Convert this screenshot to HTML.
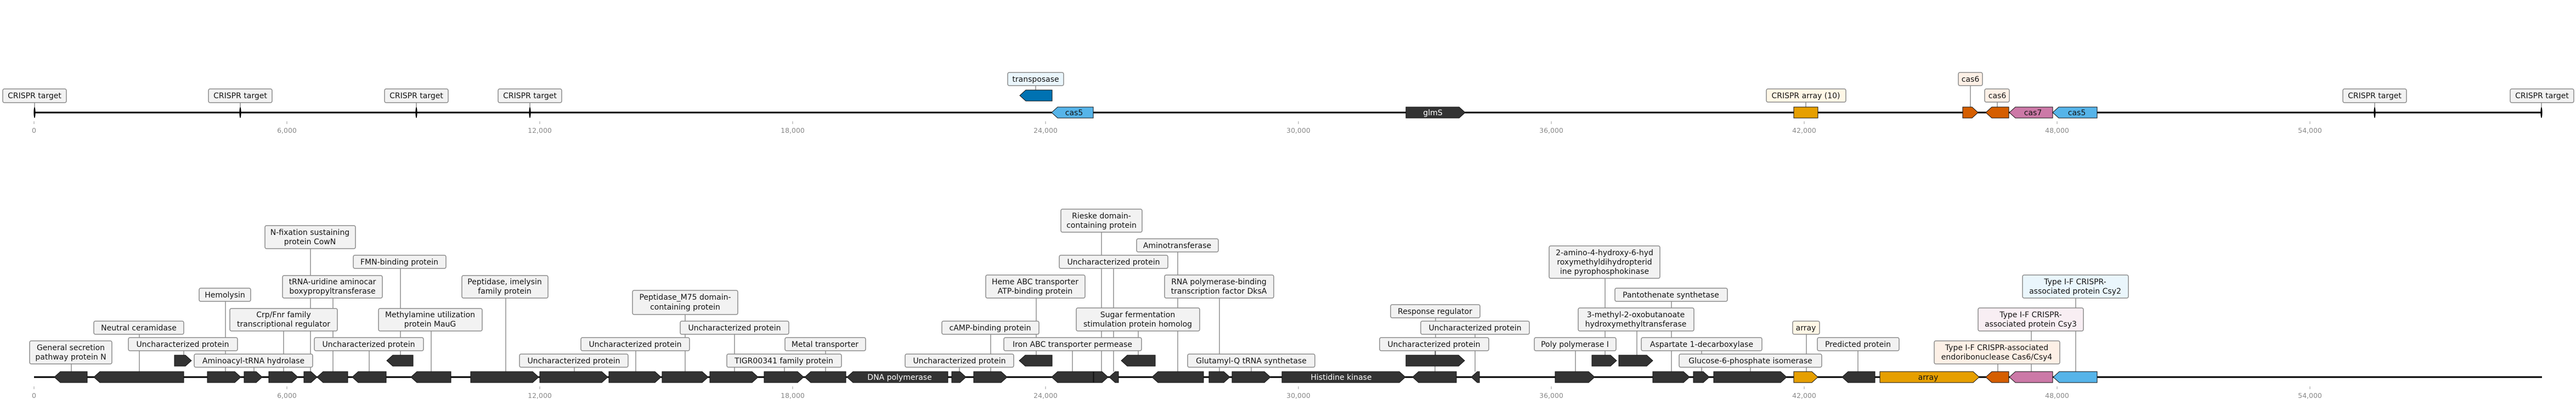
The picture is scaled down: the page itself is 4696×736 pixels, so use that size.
<!DOCTYPE html>
<html><head><meta charset="utf-8"><style>
html,body{margin:0;padding:0;background:#fff;}
svg{display:block;}
text{font-family:"DejaVu Sans","Liberation Sans",sans-serif;}
.lb{font-size:14px;fill:#111;text-anchor:middle;}
.tk{font-size:12.5px;fill:#888;text-anchor:middle;}
.bx{fill:#f2f2f2;stroke:#8a8a8a;stroke-width:1.5;}
.ld{stroke:#555;stroke-width:1;}
.g{fill:#333;stroke:#111;stroke-width:1;}
.gl{font-size:14px;text-anchor:middle;}
</style></head><body>
<svg width="4696" height="736" xmlns="http://www.w3.org/2000/svg">
<!-- ===== TOP TRACK ===== -->
<g class="ld">
<line x1="63" y1="187" x2="63" y2="196"/><line x1="438" y1="187" x2="438" y2="196"/>
<line x1="759" y1="187" x2="759" y2="196"/><line x1="966" y1="187" x2="966" y2="196"/>
<line x1="4329" y1="187" x2="4329" y2="196"/><line x1="4633" y1="187" x2="4633" y2="196"/>
<line x1="1888" y1="156" x2="1888" y2="164"/>
<line x1="3292" y1="186" x2="3292" y2="195"/>
<line x1="3592" y1="156" x2="3592" y2="195"/>
<line x1="3641" y1="186" x2="3641" y2="195"/>
</g>
<line x1="62" y1="205" x2="4633" y2="205" stroke="#000" stroke-width="3"/>
<g fill="#000">
<ellipse cx="63" cy="205" rx="1.6" ry="10"/><ellipse cx="438" cy="205" rx="1.6" ry="10"/>
<ellipse cx="759" cy="205" rx="1.6" ry="10"/><ellipse cx="966" cy="205" rx="1.6" ry="10"/>
<ellipse cx="4329" cy="205" rx="1.6" ry="10"/><ellipse cx="4633" cy="205" rx="1.6" ry="10"/>
</g>
<polygon fill="#0072B2" stroke="#111" points="1859,174 1870,164 1918,164 1918,184 1870,184"/>
<polygon fill="#56B4E9" stroke="#111" points="1917,205 1928,195 1993,195 1993,215 1928,215"/>
<text class="gl" x="1958" y="210" fill="#111">cas5</text>
<polygon class="g" points="2563,195 2660,195 2671,205 2660,215 2563,215"/>
<text class="gl" x="2612" y="210" fill="#fff">glmS</text>
<rect x="3270" y="195" width="44" height="20" fill="#E69F00" stroke="#111"/>
<polygon fill="#D55E00" stroke="#111" points="3578,195 3595,195 3606,205 3595,215 3578,215"/>
<polygon fill="#D55E00" stroke="#111" points="3620,205 3631,195 3662,195 3662,215 3631,215"/>
<polygon fill="#CC79A7" stroke="#111" points="3663,205 3674,195 3742,195 3742,215 3674,215"/>
<text class="gl" x="3706" y="210" fill="#111">cas7</text>
<polygon fill="#56B4E9" stroke="#111" points="3742,205 3753,195 3823,195 3823,215 3753,215"/>
<text class="gl" x="3786" y="210" fill="#111">cas5</text>
<!-- top boxes -->
<g>
<rect class="bx" x="5" y="162" width="116" height="25" rx="3"/><text class="lb" x="63" y="179">CRISPR target</text>
<rect class="bx" x="380" y="162" width="116" height="25" rx="3"/><text class="lb" x="438" y="179">CRISPR target</text>
<rect class="bx" x="701" y="162" width="116" height="25" rx="3"/><text class="lb" x="759" y="179">CRISPR target</text>
<rect class="bx" x="908" y="162" width="116" height="25" rx="3"/><text class="lb" x="966" y="179">CRISPR target</text>
<rect class="bx" x="4271" y="162" width="116" height="25" rx="3"/><text class="lb" x="4329" y="179">CRISPR target</text>
<rect class="bx" x="4576" y="162" width="116" height="25" rx="3"/><text class="lb" x="4634" y="179">CRISPR target</text>
<rect class="bx" x="1837" y="132" width="102" height="24" rx="3" style="fill:#eaf6fc"/><text class="lb" x="1888" y="149">transposase</text>
<rect class="bx" x="3220" y="162" width="145" height="24" rx="3" style="fill:#fff7e6"/><text class="lb" x="3292" y="179">CRISPR array (10)</text>
<rect class="bx" x="3570" y="132" width="44" height="24" rx="3" style="fill:#fdf0e6"/><text class="lb" x="3592" y="149">cas6</text>
<rect class="bx" x="3618" y="162" width="45" height="24" rx="3" style="fill:#fdf0e6"/><text class="lb" x="3641" y="179">cas6</text>
</g>
<!-- top ticks -->
<g stroke="#999" stroke-width="1">
<line x1="62" y1="221" x2="62" y2="226"/><line x1="523" y1="221" x2="523" y2="226"/><line x1="984" y1="221" x2="984" y2="226"/><line x1="1445" y1="221" x2="1445" y2="226"/><line x1="1906" y1="221" x2="1906" y2="226"/><line x1="2367" y1="221" x2="2367" y2="226"/><line x1="2828" y1="221" x2="2828" y2="226"/><line x1="3289" y1="221" x2="3289" y2="226"/><line x1="3750" y1="221" x2="3750" y2="226"/><line x1="4211" y1="221" x2="4211" y2="226"/>
</g>
<g class="tk">
<text x="62" y="242">0</text><text x="523" y="242">6,000</text><text x="984" y="242">12,000</text><text x="1445" y="242">18,000</text><text x="1906" y="242">24,000</text><text x="2367" y="242">30,000</text><text x="2828" y="242">36,000</text><text x="3289" y="242">42,000</text><text x="3750" y="242">48,000</text><text x="4211" y="242">54,000</text>
</g>

<!-- ===== BOTTOM TRACK ===== -->
<g class="ld">
<line x1="130" y1="663" x2="130" y2="677"/>
<line x1="254" y1="609" x2="254" y2="677"/>
<line x1="335" y1="639" x2="335" y2="647"/>
<line x1="411" y1="549" x2="411" y2="677"/>
<line x1="463" y1="669" x2="463" y2="677"/>
<line x1="517" y1="603" x2="517" y2="677"/>
<line x1="566" y1="453" x2="566" y2="677"/>
<line x1="607" y1="543" x2="607" y2="677"/>
<line x1="673" y1="639" x2="673" y2="677"/>
<line x1="730" y1="489" x2="730" y2="647"/>
<line x1="786" y1="603" x2="786" y2="677"/>
<line x1="922" y1="543" x2="922" y2="677"/>
<line x1="1047" y1="669" x2="1047" y2="677"/>
<line x1="1159" y1="639" x2="1159" y2="677"/>
<line x1="1249" y1="573" x2="1249" y2="677"/>
<line x1="1339" y1="609" x2="1339" y2="677"/>
<line x1="1430" y1="669" x2="1430" y2="677"/>
<line x1="1505" y1="639" x2="1505" y2="677"/>
<line x1="1749" y1="669" x2="1749" y2="677"/>
<line x1="1806" y1="609" x2="1806" y2="677"/>
<line x1="1889" y1="543" x2="1889" y2="647"/>
<line x1="1955" y1="639" x2="1955" y2="677"/>
<line x1="2008" y1="423" x2="2008" y2="677"/>
<line x1="2030" y1="489" x2="2030" y2="677"/>
<line x1="2147" y1="459" x2="2147" y2="677"/>
<line x1="2075" y1="603" x2="2075" y2="647"/>
<line x1="2223" y1="543" x2="2223" y2="677"/>
<line x1="2281" y1="669" x2="2281" y2="677"/>
<line x1="2617" y1="579" x2="2617" y2="647"/>
<line x1="2689" y1="609" x2="2689" y2="677"/>
<line x1="2616" y1="639" x2="2616" y2="677"/>
<line x1="2872" y1="639" x2="2872" y2="677"/>
<line x1="2926" y1="507" x2="2926" y2="647"/>
<line x1="3047" y1="549" x2="3047" y2="677"/>
<line x1="2984" y1="603" x2="2984" y2="647"/>
<line x1="3102" y1="639" x2="3102" y2="677"/>
<line x1="3191" y1="669" x2="3191" y2="677"/>
<line x1="3293" y1="609" x2="3293" y2="677"/>
<line x1="3387" y1="639" x2="3387" y2="677"/>
<line x1="3642" y1="663" x2="3642" y2="677"/>
<line x1="3703" y1="603" x2="3703" y2="677"/>
<line x1="3784" y1="543" x2="3784" y2="677"/>
</g>
<line x1="62" y1="687" x2="4634" y2="687" stroke="#000" stroke-width="3"/>
<g class="g">
<polygon points="99,687 110,677 159,677 159,697 110,697"/>
<polygon points="171,687 182,677 335,677 335,697 182,697"/>
<polygon points="378,677 428,677 439,687 428,697 378,697"/>
<polygon points="445,677 467,677 478,687 467,697 445,697"/>
<polygon points="490,677 532,677 543,687 532,697 490,697"/>
<polygon points="554,677 567,677 578,687 567,697 554,697"/>
<polygon points="578,687 589,677 634,677 634,697 589,697"/>
<polygon points="642,687 653,677 704,677 704,697 653,697"/>
<polygon points="749,687 760,677 822,677 822,697 760,697"/>
<polygon points="858,677 971,677 982,687 971,697 858,697"/>
<polygon points="984,677 1097,677 1108,687 1097,697 984,697"/>
<polygon points="1110,677 1194,677 1205,687 1194,697 1110,697"/>
<polygon points="1207,677 1280,677 1291,687 1280,697 1207,697"/>
<polygon points="1294,677 1371,677 1382,687 1371,697 1294,697"/>
<polygon points="1393,677 1454,677 1465,687 1454,697 1393,697"/>
<polygon points="1467,687 1478,677 1542,677 1542,697 1478,697"/>
<polygon points="1544,687 1555,677 1728,677 1728,697 1555,697"/>
<polygon points="1735,677 1750,677 1761,687 1750,697 1735,697"/>
<polygon points="1775,677 1825,677 1836,687 1825,697 1775,697"/>
<polygon points="1917,687 1928,677 1993,677 1993,697 1928,697"/>
<polygon points="1994,677 2009,677 2020,687 2009,697 1994,697"/>
<polygon points="2022,687 2033,677 2039,677 2039,697 2033,697"/>
<polygon points="2100,687 2111,677 2194,677 2194,697 2111,697"/>
<polygon points="2204,677 2231,677 2242,687 2231,697 2204,697"/>
<polygon points="2246,677 2305,677 2316,687 2305,697 2246,697"/>
<polygon points="2337,677 2551,677 2562,687 2551,697 2337,697"/>
<polygon points="2575,687 2586,677 2655,677 2655,697 2586,697"/>
<polygon points="2682,687 2693,677 2697,677 2697,697 2693,697"/>
<polygon points="2835,677 2896,677 2907,687 2896,697 2835,697"/>
<polygon points="3013,677 3069,677 3080,687 3069,697 3013,697"/>
<polygon points="3087,677 3105,677 3116,687 3105,697 3087,697"/>
<polygon points="3124,677 3246,677 3257,687 3246,697 3124,697"/>
<polygon points="3358,687 3369,677 3418,677 3418,697 3369,697"/>
<polygon points="318,647 338,647 349,657 338,667 318,667"/>
<polygon points="705,657 716,647 753,647 753,667 716,667"/>
<polygon points="1858,657 1869,647 1918,647 1918,667 1869,667"/>
<polygon points="2044,657 2055,647 2106,647 2106,667 2055,667"/>
<polygon points="2563,647 2659,647 2670,657 2659,667 2563,667"/>
<polygon points="2902,647 2936,647 2947,657 2936,667 2902,667"/>
<polygon points="2951,647 3002,647 3013,657 3002,667 2951,667"/>
</g>
<polygon fill="#E69F00" stroke="#111" points="3270,677 3303,677 3314,687 3303,697 3270,697"/>
<polygon fill="#E69F00" stroke="#111" points="3427,677 3597,677 3608,687 3597,697 3427,697"/>
<polygon fill="#D55E00" stroke="#111" points="3620,687 3631,677 3662,677 3662,697 3631,697"/>
<polygon fill="#CC79A7" stroke="#111" points="3663,687 3674,677 3742,677 3742,697 3674,697"/>
<polygon fill="#56B4E9" stroke="#111" points="3743,687 3754,677 3823,677 3823,697 3754,697"/>
<text class="gl" x="1640" y="692" fill="#fff">DNA polymerase</text>
<text class="gl" x="2445" y="692" fill="#fff">Histidine kinase</text>
<text class="gl" x="3515" y="692" fill="#111">array</text>

<!-- bottom boxes -->
<g>
<rect class="bx" x="54" y="621" width="150" height="42" rx="3"/><text class="lb" x="129" y="638">General secretion</text><text class="lb" x="129" y="655">pathway protein N</text>
<rect class="bx" x="171" y="585" width="164" height="24" rx="3"/><text class="lb" x="253" y="602">Neutral ceramidase</text>
<rect class="bx" x="234" y="615" width="199" height="24" rx="3"/><text class="lb" x="333" y="632">Uncharacterized protein</text>
<rect class="bx" x="363" y="525" width="94" height="24" rx="3"/><text class="lb" x="410" y="542">Hemolysin</text>
<rect class="bx" x="354" y="645" width="216" height="24" rx="3"/><text class="lb" x="462" y="662">Aminoacyl-tRNA hydrolase</text>
<rect class="bx" x="419" y="562" width="196" height="41" rx="3"/><text class="lb" x="517" y="578">Crp/Fnr family</text><text class="lb" x="517" y="595">transcriptional regulator</text>
<rect class="bx" x="483" y="411" width="165" height="42" rx="3"/><text class="lb" x="565" y="428">N-fixation sustaining</text><text class="lb" x="565" y="445">protein CowN</text>
<rect class="bx" x="515" y="502" width="182" height="41" rx="3"/><text class="lb" x="606" y="518">tRNA-uridine aminocar</text><text class="lb" x="606" y="535">boxypropyltransferase</text>
<rect class="bx" x="573" y="615" width="199" height="24" rx="3"/><text class="lb" x="672" y="632">Uncharacterized protein</text>
<rect class="bx" x="644" y="465" width="169" height="24" rx="3"/><text class="lb" x="728" y="482">FMN-binding protein</text>
<rect class="bx" x="690" y="562" width="189" height="41" rx="3"/><text class="lb" x="784" y="578">Methylamine utilization</text><text class="lb" x="784" y="595">protein MauG</text>
<rect class="bx" x="842" y="502" width="157" height="41" rx="3"/><text class="lb" x="920" y="518">Peptidase, imelysin</text><text class="lb" x="920" y="535">family protein</text>
<rect class="bx" x="947" y="645" width="198" height="24" rx="3"/><text class="lb" x="1046" y="662">Uncharacterized protein</text>
<rect class="bx" x="1059" y="615" width="198" height="24" rx="3"/><text class="lb" x="1158" y="632">Uncharacterized protein</text>
<rect class="bx" x="1153" y="529" width="192" height="44" rx="3"/><text class="lb" x="1249" y="546">Peptidase_M75 domain-</text><text class="lb" x="1249" y="564">containing protein</text>
<rect class="bx" x="1240" y="585" width="198" height="24" rx="3"/><text class="lb" x="1339" y="602">Uncharacterized protein</text>
<rect class="bx" x="1325" y="645" width="209" height="24" rx="3"/><text class="lb" x="1429" y="662">TIGR00341 family protein</text>
<rect class="bx" x="1431" y="615" width="147" height="24" rx="3"/><text class="lb" x="1504" y="632">Metal transporter</text>
<rect class="bx" x="1650" y="645" width="198" height="24" rx="3"/><text class="lb" x="1749" y="662">Uncharacterized protein</text>
<rect class="bx" x="1717" y="585" width="177" height="24" rx="3"/><text class="lb" x="1805" y="602">cAMP-binding protein</text>
<rect class="bx" x="1797" y="501" width="181" height="42" rx="3"/><text class="lb" x="1887" y="518">Heme ABC transporter</text><text class="lb" x="1887" y="535">ATP-binding protein</text>
<rect class="bx" x="1830" y="615" width="251" height="24" rx="3"/><text class="lb" x="1955" y="632">Iron ABC transporter permease</text>
<rect class="bx" x="1934" y="381" width="148" height="42" rx="3"/><text class="lb" x="2008" y="398">Rieske domain-</text><text class="lb" x="2008" y="415">containing protein</text>
<rect class="bx" x="1931" y="465" width="198" height="24" rx="3"/><text class="lb" x="2030" y="482">Uncharacterized protein</text>
<rect class="bx" x="2072" y="435" width="149" height="24" rx="3"/><text class="lb" x="2146" y="452">Aminotransferase</text>
<rect class="bx" x="1962" y="561" width="225" height="42" rx="3"/><text class="lb" x="2074" y="578">Sugar fermentation</text><text class="lb" x="2074" y="595">stimulation protein homolog</text>
<rect class="bx" x="2123" y="501" width="199" height="42" rx="3"/><text class="lb" x="2222" y="518">RNA polymerase-binding</text><text class="lb" x="2222" y="535">transcription factor DksA</text>
<rect class="bx" x="2165" y="645" width="232" height="24" rx="3"/><text class="lb" x="2281" y="662">Glutamyl-Q tRNA synthetase</text>
<rect class="bx" x="2535" y="555" width="163" height="24" rx="3"/><text class="lb" x="2616" y="572">Response regulator</text>
<rect class="bx" x="2590" y="585" width="198" height="24" rx="3"/><text class="lb" x="2689" y="602">Uncharacterized protein</text>
<rect class="bx" x="2515" y="615" width="199" height="24" rx="3"/><text class="lb" x="2614" y="632">Uncharacterized protein</text>
<rect class="bx" x="2797" y="615" width="149" height="24" rx="3"/><text class="lb" x="2871" y="632">Poly polymerase I</text>
<rect class="bx" x="2824" y="448" width="202" height="59" rx="3"/><text class="lb" x="2925" y="465">2-amino-4-hydroxy-6-hyd</text><text class="lb" x="2925" y="482">roxymethyldihydropterid</text><text class="lb" x="2925" y="499">ine pyrophosphokinase</text>
<rect class="bx" x="2944" y="525" width="205" height="24" rx="3"/><text class="lb" x="3046" y="542">Pantothenate synthetase</text>
<rect class="bx" x="2877" y="561" width="211" height="42" rx="3"/><text class="lb" x="2982" y="578">3-methyl-2-oxobutanoate</text><text class="lb" x="2982" y="595">hydroxymethyltransferase</text>
<rect class="bx" x="2992" y="615" width="220" height="24" rx="3"/><text class="lb" x="3102" y="632">Aspartate 1-decarboxylase</text>
<rect class="bx" x="3061" y="645" width="260" height="24" rx="3"/><text class="lb" x="3191" y="662">Glucose-6-phosphate isomerase</text>
<rect class="bx" x="3268" y="585" width="49" height="24" rx="3" style="fill:#fff7e6"/><text class="lb" x="3292" y="602">array</text>
<rect class="bx" x="3313" y="615" width="149" height="24" rx="3"/><text class="lb" x="3387" y="632">Predicted protein</text>
<rect class="bx" x="3526" y="621" width="229" height="42" rx="3" style="fill:#fdf0e6"/><text class="lb" x="3640" y="638">Type I-F CRISPR-associated</text><text class="lb" x="3640" y="655">endoribonuclease Cas6/Csy4</text>
<rect class="bx" x="3606" y="561" width="192" height="42" rx="3" style="fill:#f8eef3"/><text class="lb" x="3702" y="578">Type I-F CRISPR-</text><text class="lb" x="3702" y="595">associated protein Csy3</text>
<rect class="bx" x="3687" y="501" width="193" height="42" rx="3" style="fill:#eaf6fc"/><text class="lb" x="3783" y="518">Type I-F CRISPR-</text><text class="lb" x="3783" y="535">associated protein Csy2</text>
</g>
<!-- bottom ticks -->
<g stroke="#999" stroke-width="1">
<line x1="62" y1="704" x2="62" y2="709"/><line x1="523" y1="704" x2="523" y2="709"/><line x1="984" y1="704" x2="984" y2="709"/><line x1="1445" y1="704" x2="1445" y2="709"/><line x1="1906" y1="704" x2="1906" y2="709"/><line x1="2367" y1="704" x2="2367" y2="709"/><line x1="2828" y1="704" x2="2828" y2="709"/><line x1="3289" y1="704" x2="3289" y2="709"/><line x1="3750" y1="704" x2="3750" y2="709"/><line x1="4211" y1="704" x2="4211" y2="709"/>
</g>
<g class="tk">
<text x="62" y="725">0</text><text x="523" y="725">6,000</text><text x="984" y="725">12,000</text><text x="1445" y="725">18,000</text><text x="1906" y="725">24,000</text><text x="2367" y="725">30,000</text><text x="2828" y="725">36,000</text><text x="3289" y="725">42,000</text><text x="3750" y="725">48,000</text><text x="4211" y="725">54,000</text>
</g>
</svg>
</body></html>
